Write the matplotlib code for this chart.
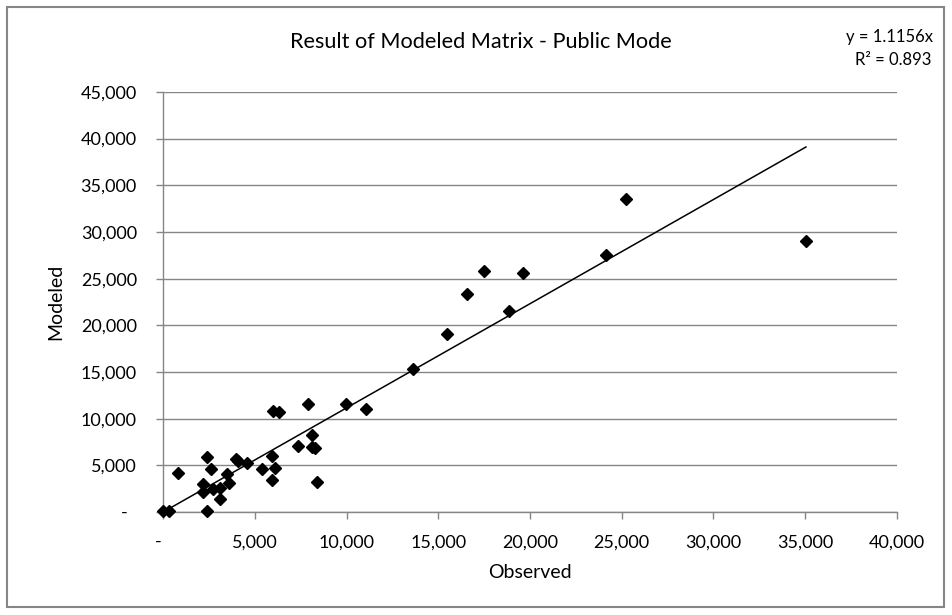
import numpy as np
import matplotlib
matplotlib.use("Agg")
import matplotlib.pyplot as plt
from matplotlib.ticker import FuncFormatter, MultipleLocator
from matplotlib.patches import Rectangle

plt.rcParams['font.family'] = ['Lato', 'DejaVu Sans']

# --- Data ---
observed = [0, 330, 820, 2400, 2600, 2150, 2150, 2400, 2730, 3090,
            3090, 3490, 3570, 3970, 4060, 4550, 5380, 5910, 5910, 6110,
            5970, 6330, 7910, 9970, 11040, 8130, 7330, 8090, 8270, 8360,
            13640, 15460, 16550, 17490, 18870, 19600, 24150, 25220, 35050]
modeled = [80, 120, 4210, 5860, 4570, 3000, 2180, 140, 2430, 2540,
           1430, 4040, 3140, 5640, 5500, 5210, 4640, 6000, 3430, 4750,
           10820, 10750, 11570, 11570, 11040, 8250, 7100, 6930, 6860, 3250,
           15290, 19040, 23360, 25820, 21570, 25570, 27500, 33570, 29070]
slope = 1.1156
r_squared = 0.893

title = "Result of Modeled Matrix - Public Mode"
grey = "#868686"

# --- Figure ---
fig = plt.figure(figsize=(9.52, 6.15), dpi=100)
ax = fig.add_axes([0.1715, 0.1675, 0.7704, 0.683])

# trendline through origin
x_line = np.array([0, max(observed)])
ax.plot(x_line, slope * x_line, color="black", linewidth=1.1, zorder=3)

ax.plot(observed, modeled, linestyle="none", marker="D", markersize=6,
        color="black", zorder=4, clip_on=False)

ax.set_xlim(0, 40000)
ax.set_ylim(0, 45000)
ax.xaxis.set_major_locator(MultipleLocator(5000))
ax.yaxis.set_major_locator(MultipleLocator(5000))

def fmt(v, pos):
    # accounting style: zero shown as a dash with padding
    return "-  " if v == 0 else f"{v:,.0f}"

ax.xaxis.set_major_formatter(FuncFormatter(fmt))
ax.yaxis.set_major_formatter(FuncFormatter(fmt))

ax.grid(axis="y", color=grey, linewidth=1.0)
ax.set_axisbelow(True)
for side in ["top", "right"]:
    ax.spines[side].set_visible(False)
for side in ["left", "bottom"]:
    ax.spines[side].set_color(grey)
    ax.spines[side].set_linewidth(1.0)

ax.tick_params(axis="both", direction="out", length=5, width=1.0, color=grey,
               labelsize=13, labelcolor="black")
ax.tick_params(axis="x", pad=11)
ax.tick_params(axis="y", pad=14)

ax.set_xlabel("Observed", fontsize=14, labelpad=10)
ax.set_ylabel("Modeled", fontsize=14, labelpad=12)

fig.text(481 / 952, 1 - 42 / 615, title, fontsize=15.6, ha="center", va="center")
fig.text(933 / 952, 1 - 37 / 615, f"y = {slope}x", fontsize=12, ha="right", va="center")
fig.text(931 / 952, 1 - 60 / 615, f"R² = {r_squared}", fontsize=12, ha="right", va="center")

# chart border
fig.patches.append(Rectangle((7 / 952, 8 / 615), 937 / 952, 600 / 615,
                             transform=fig.transFigure, fill=False,
                             edgecolor=grey, linewidth=1.5))

fig.savefig("out.png", dpi=100)
